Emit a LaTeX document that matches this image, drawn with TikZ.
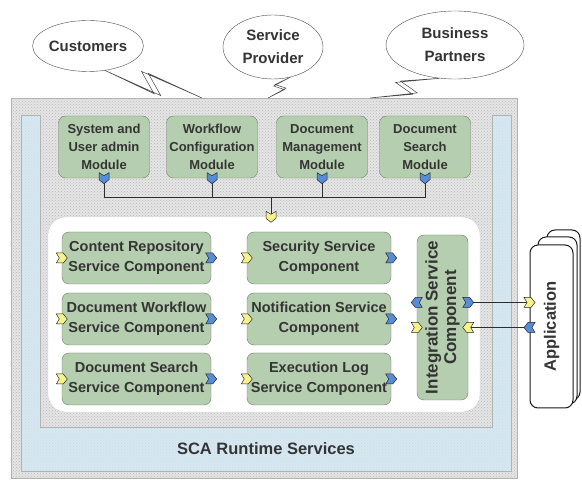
\documentclass[tikz,border=0pt]{standalone}
\usepackage{fontspec}
\setmainfont{Liberation Sans}
\usepackage{xcolor}
\usepackage{tikz}
\usetikzlibrary{shapes,arrows,positioning,calc,patterns}

\definecolor{txtgray}{RGB}{52,52,52}
\definecolor{sage}{RGB}{182,206,176}
\definecolor{sageline}{RGB}{108,126,104}
\definecolor{paleblue}{RGB}{212,233,244}
\definecolor{refblue}{RGB}{88,140,214}
\definecolor{srvyellow}{RGB}{246,242,140}

\begin{document}
\begin{tikzpicture}[x=1pt, y=-1pt, font=\bfseries, text=txtgray,
    actor/.style={ellipse, draw=gray!60!black, fill=white, inner sep=0pt, align=center,
        font=\bfseries\fontsize{15}{23}\selectfont},
    module/.style={draw=sageline, fill=sage, rounded corners=7pt, inner sep=1pt,
        minimum width=91pt, minimum height=62pt, align=center,
        font=\bfseries\fontsize{13}{18}\selectfont},
    comp/.style={module, minimum height=52pt, font=\bfseries\fontsize{14.5}{20}\selectfont},
    appcard/.style={draw=gray!20!black, fill=white, rounded corners=8pt, line width=1pt, inner sep=0pt},
    dotbg/.style={preaction={fill=gray!20}, pattern=crosshatch dots, pattern color=gray!55},
    bluebg/.style={preaction={fill=paleblue}, pattern=crosshatch dots, pattern color=gray!30},
    wire/.style={draw=gray!35!black, line width=0.6pt},
    bolt/.style={draw=gray!55!black, fill=white, line width=0.5pt},
    port/.pic={\path[pic actions, draw=gray!30!black, line width=0.5pt]
        (-5.5,-5) -- (1.5,-5) -- (5.5,0) -- (1.5,5) -- (-5.5,5) -- (-2.5,0) -- cycle;},
    srvport/.style={fill=srvyellow},
    refport/.style={fill=refblue}
]
    \useasboundingbox (0,0) rectangle (582,481);

    % platform and runtime
    \node[draw=gray!60, dotbg, minimum width=506pt, minimum height=380pt, inner sep=0pt] (sys) at (264,288) {};
    \path[draw=gray!60, bluebg] (21,115) -- (40,115) -- (40,427) -- (492,427) -- (492,115)
        -- (511,115) -- (511,471) -- (21,471) -- cycle;
    \node[font=\bfseries\fontsize{16.5}{20}\selectfont] (sca) at (266,449) {SCA Runtime Services};
    \node[draw=gray!70, densely dotted, fill=white, rounded corners=18pt,
        minimum width=432pt, minimum height=195pt] (core) at (264,314.5) {};

    % modules
    \node[module] (sysm) at (104,147) {System and\\User admin\\Module};
    \node[module] (wfm) at (212,147) {Workflow\\Configuration\\Module};
    \node[module] (dmm) at (322,147) {Document\\Management\\Module};
    \node[module] (dsm) at (425,147) {Document\\Search\\Module};

    % components
    \node[comp, minimum width=149pt] (cr) at (136.5,258) {Content Repository\\Service Component};
    \node[comp, minimum width=149pt] (dw) at (136.5,319) {Document Workflow\\Service Component};
    \node[comp, minimum width=149pt] (ds) at (136.5,379) {Document Search\\Service Component};
    \node[comp, minimum width=144pt] (sec) at (319,258) {Security Service\\Component};
    \node[comp, minimum width=144pt] (ntf) at (319,319) {Notification Service\\Component};
    \node[comp, minimum width=144pt] (xlog) at (319,379) {Execution Log\\Service Component};
    \node[comp, minimum width=51pt, minimum height=165pt] (intg) at (442.5,317.5) {};
    \node[rotate=90, align=center, font=\bfseries\fontsize{17}{18.5}\selectfont] (intgtxt)
        at (intg.center) {Integration Service\\Component};

    % application
    \node[appcard, minimum width=33pt, minimum height=170pt] (app3) at (563.5,315) {};
    \node[appcard, minimum width=39pt, minimum height=167pt] (app2) at (557.5,320.5) {};
    \node[appcard, minimum width=43pt, minimum height=163pt] (app) at (551.5,326.5) {};
    \node[rotate=90, font=\bfseries\fontsize{16.5}{20}\selectfont] (apptxt) at (app.center) {Application};

    % wiring
    \coordinate (bus) at (271,197);
    \foreach \m in {sysm,wfm,dmm,dsm}
        \draw[wire] (\m.south) |- (bus);
    \draw[wire] (bus) -- (bus |- core.north);
    \coordinate (il1) at ($(intg.west)+(0,-15)$);
    \coordinate (il2) at ($(intg.west)+(0,10)$);
    \coordinate (ir1) at ($(intg.east)+(0,-15)$);
    \coordinate (ir2) at ($(intg.east)+(0,10)$);
    \coordinate (al1) at (app.west |- ir1);
    \coordinate (al2) at (app.west |- ir2);
    \draw[wire] (ir1) -- (al1);
    \draw[wire] (ir2) -- (al2);

    % ports
    \foreach \m in {sysm,wfm,dmm,dsm}
        \pic[refport, rotate=-90] at (\m.south) {port};
    \pic[srvport, rotate=-90] at (bus |- core.north) {port};
    \foreach \c in {cr,dw,ds,sec,ntf,xlog} {
        \pic[srvport] at (\c.west) {port};
        \pic[refport] at (\c.east) {port};
    }
    \pic[refport, rotate=180] at (il1) {port};
    \pic[srvport] at (il2) {port};
    \pic[refport] at (ir1) {port};
    \pic[srvport, rotate=180] at (ir2) {port};
    \pic[srvport] at (al1) {port};
    \pic[refport, rotate=180] at (al2) {port};

    % users
    \node[actor, minimum width=104pt, minimum height=51pt] (cust) at (88,46) {Customers};
    \node[actor, minimum width=100pt, minimum height=64pt] (prov) at (273,47) {Service\\Provider};
    \node[actor, minimum width=138pt, minimum height=68pt] (part) at (455,45) {Business\\Partners};
    \coordinate (b1) at (202,98);
    \coordinate (b2) at (268,98);
    \coordinate (b3) at (370,98);
    \foreach \s/\e/\w in {cust.-55/b1/9pt, prov.-60/b2/5pt, part.-115/b3/8pt}
        \draw[bolt] (\s) -- ($(\s)!0.6!(\e)!\w!-90:(\e)$) -- ($(\s)!0.42!(\e)!\w!90:(\e)$) -- (\e)
            -- ($(\s)!0.35!(\e)!\w!90:(\e)$) -- ($(\s)!0.53!(\e)!\w!-90:(\e)$) -- cycle;
\end{tikzpicture}
\end{document}
